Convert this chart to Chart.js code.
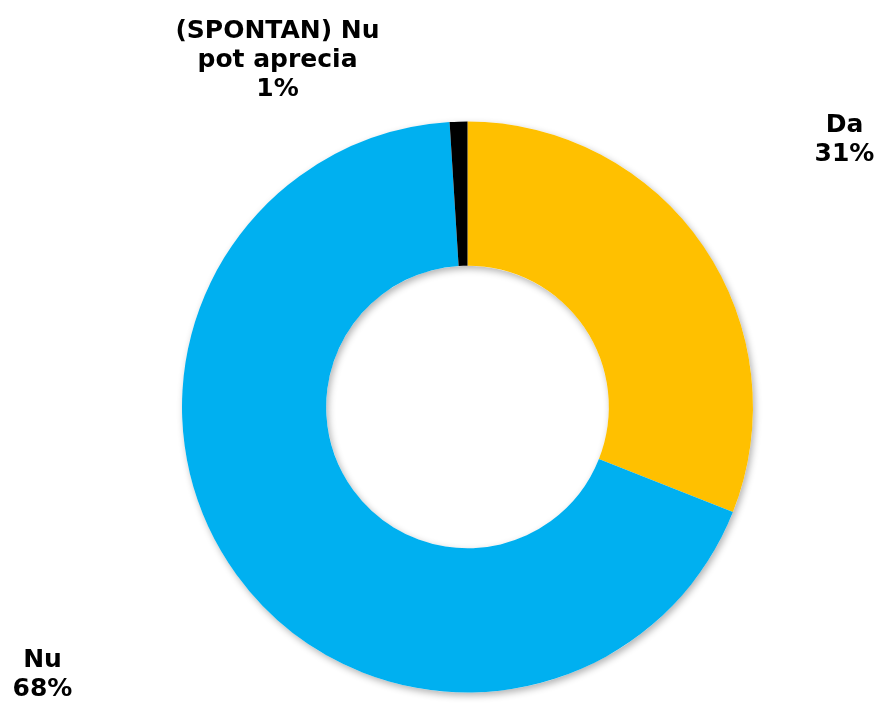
<!DOCTYPE html>
<html>
<head>
<meta charset="utf-8">
<script src="https://cdn.jsdelivr.net/npm/chart.js@4"></script>
<style>
  html, body { margin: 0; padding: 0; background: #ffffff; }
  .chart-container { position: relative; width: 877px; height: 707px; }
</style>
</head>
<body>
<div class="chart-container">
  <canvas id="donutChart"></canvas>
</div>
<script>
const categories = ["Da", "Nu", "(SPONTAN) Nu pot aprecia"];
const labelLines = [["Da"], ["Nu"], ["(SPONTAN) Nu", "pot aprecia"]];
const values = [31, 68, 1];
const colors = ["#FFC000", "#00B0F0", "#000000"];
// where each label sits, relative to the donut centre
const labelOffsets = [[377, -267], [-425, 268], [-190, -347]];

const labelPlugin = {
  id: "outsideLabels",
  afterDatasetsDraw(chart) {
    const ctx = chart.ctx;
    const arc = chart.getDatasetMeta(0).data[0];
    const cx = arc.x, cy = arc.y;
    ctx.save();
    ctx.fillStyle = "#000000";
    ctx.font = "bold 25px 'DejaVu Sans', Verdana, sans-serif";
    ctx.textAlign = "center";
    ctx.textBaseline = "middle";
    const lineH = 29;
    values.forEach(function (v, i) {
      const lines = labelLines[i].concat([v + "%"]);
      const x = cx + labelOffsets[i][0];
      const y0 = cy + labelOffsets[i][1] - (lines.length - 1) * lineH / 2;
      lines.forEach(function (t, j) {
        ctx.fillText(t, x, y0 + j * lineH);
      });
    });
    ctx.restore();
  },
};

// one soft shadow under the whole ring, drawn before the slices
const shadowPlugin = {
  id: "ringShadow",
  beforeDatasetsDraw(chart) {
    const ctx = chart.ctx;
    const arc = chart.getDatasetMeta(0).data[0];
    if (!arc) return;
    ctx.save();
    ctx.shadowColor = "rgba(0, 0, 0, 0.3)";
    ctx.shadowBlur = 7;
    ctx.shadowOffsetX = 2;
    ctx.shadowOffsetY = 3;
    ctx.fillStyle = "#ffffff";
    ctx.beginPath();
    ctx.arc(arc.x, arc.y, arc.outerRadius, 0, Math.PI * 2);
    ctx.arc(arc.x, arc.y, arc.innerRadius, 0, Math.PI * 2, true);
    ctx.fill();
    ctx.restore();
  },
};

document.addEventListener("DOMContentLoaded", function () {
  const ctx = document.getElementById("donutChart").getContext("2d");
  new Chart(ctx, {
    type: "doughnut",
    data: {
      labels: categories,
      datasets: [
        {
          data: values,
          backgroundColor: colors,
          borderWidth: 0,
        },
      ],
    },
    options: {
      responsive: true,
      maintainAspectRatio: false,
      animation: false,
      cutout: "49.5%",
      layout: {
        padding: { top: 121, bottom: 14, left: 182, right: 124 },
      },
      plugins: {
        legend: { display: false },
        tooltip: { enabled: false },
      },
    },
    plugins: [shadowPlugin, labelPlugin],
  });
});
</script>
</body>
</html>
